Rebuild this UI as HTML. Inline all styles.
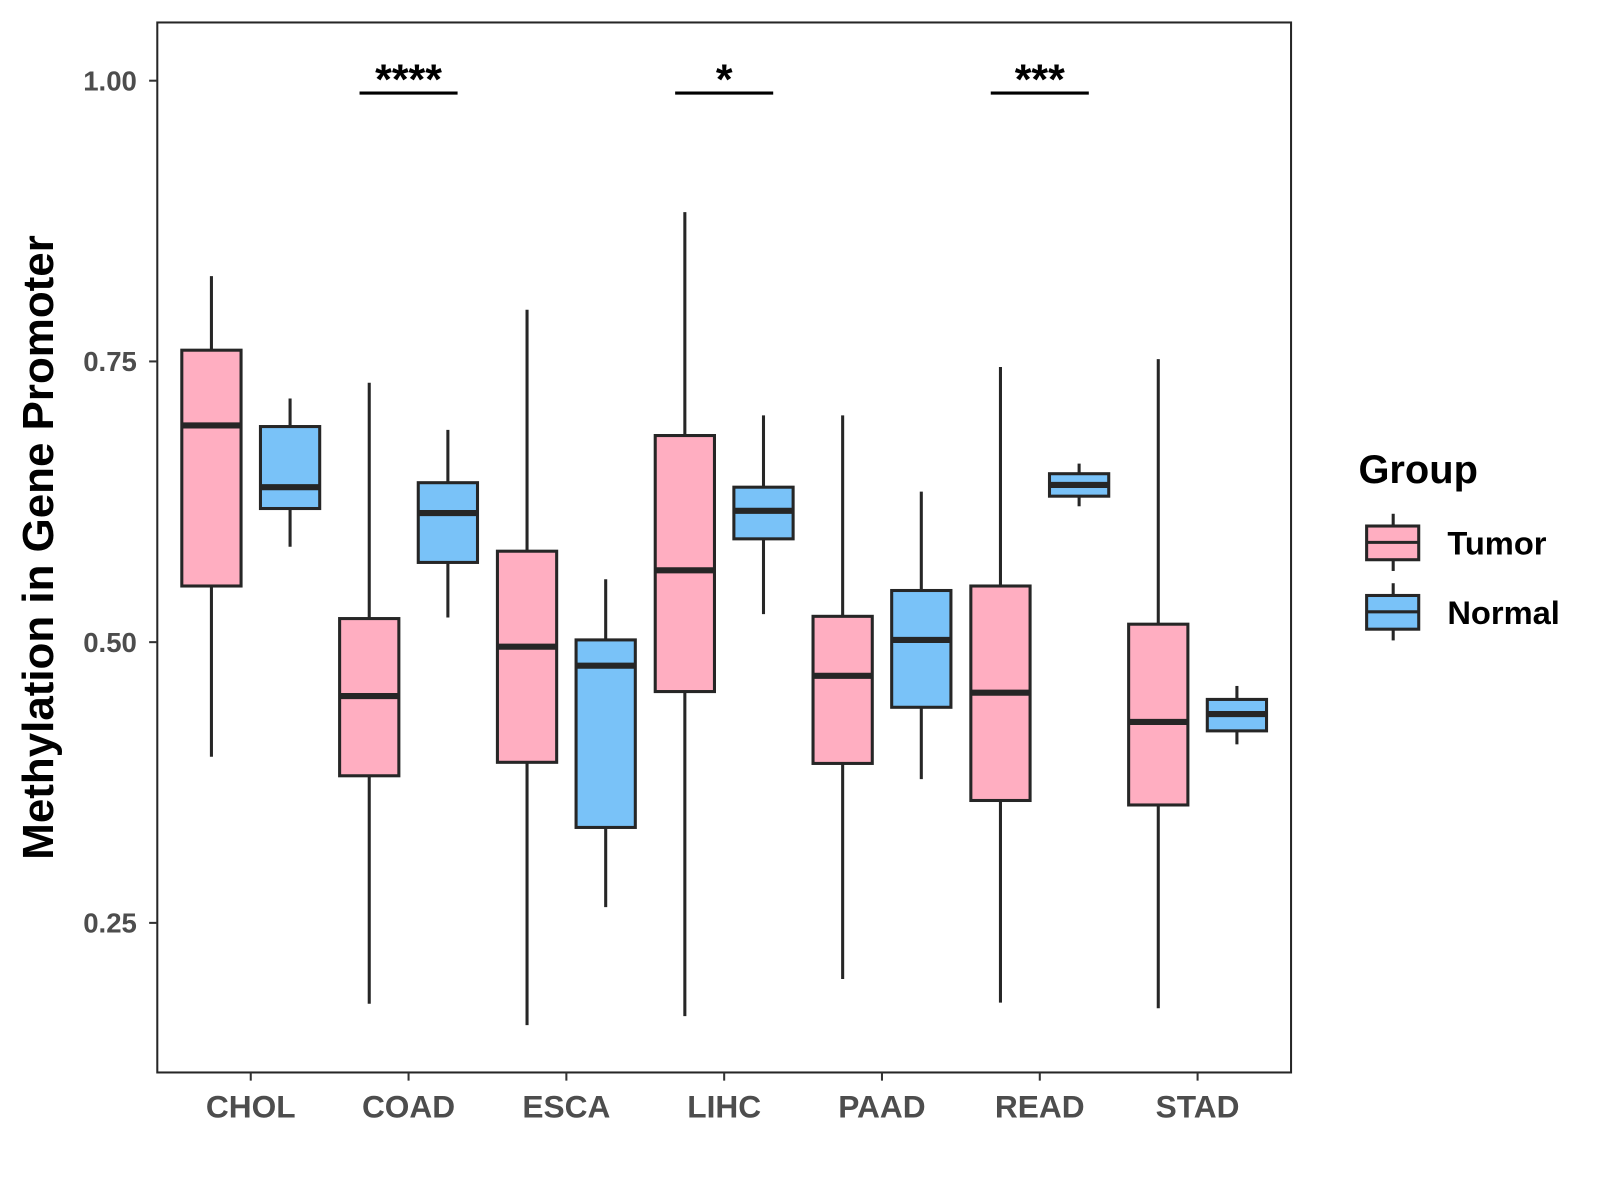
<!DOCTYPE html>
<html><head><meta charset="utf-8"><style>
html,body{margin:0;padding:0;background:#fff;}
svg{display:block;font-family:"Liberation Sans",Arial,sans-serif;}
</style></head><body>
<svg id="chart" width="1600" height="1200" viewBox="0 0 1600 1200">
<rect x="0" y="0" width="1600" height="1200" fill="#fff"/>
<g id="root" transform="scale(1.0214)">
<g id="marks"></g>
<rect x="154" y="22" width="1110" height="1028" fill="none" stroke="#262626" stroke-width="2"/>
<text transform="translate(52,536) rotate(-90)" text-anchor="middle" font-size="43" font-weight="bold" fill="#000">Methylation in Gene Promoter</text>
<g>
<text x="1330" y="473" font-size="39" font-weight="bold" fill="#000">Group</text>
<g>
<line x1="1364" y1="503" x2="1364" y2="559" stroke="#262626" stroke-width="3"/>
<rect x="1338" y="515" width="51" height="33" fill="#FFAEC1" stroke="#262626" stroke-width="3"/>
<line x1="1338" y1="531" x2="1389" y2="531" stroke="#262626" stroke-width="3"/>
<text x="1417" y="543" font-size="32" font-weight="bold" fill="#000">Tumor</text>
</g>
<g>
<line x1="1364" y1="571" x2="1364" y2="627" stroke="#262626" stroke-width="3"/>
<rect x="1338" y="583" width="51" height="33" fill="#79C2F8" stroke="#262626" stroke-width="3"/>
<line x1="1338" y1="599" x2="1389" y2="599" stroke="#262626" stroke-width="3"/>
<text x="1417" y="611" font-size="32" font-weight="bold" fill="#000">Normal</text>
</g>
</g>
</g>
</svg>
<script>
const categories = ["CHOL","COAD","ESCA","LIHC","PAAD","READ","STAD"];
// [lower whisker, q1, median, q3, upper whisker]
const tumorStats = [
 [0.398,0.550,0.693,0.760,0.826],
 [0.178,0.381,0.452,0.521,0.731],
 [0.159,0.393,0.496,0.581,0.796],
 [0.167,0.456,0.564,0.684,0.883],
 [0.200,0.392,0.470,0.523,0.702],
 [0.179,0.359,0.455,0.550,0.745],
 [0.174,0.355,0.429,0.516,0.752]
];
const normalStats = [
 [0.585,0.619,0.638,0.692,0.717],
 [0.522,0.571,0.615,0.642,0.689],
 [0.264,0.335,0.479,0.502,0.556],
 [0.525,0.592,0.617,0.638,0.702],
 [0.378,0.442,0.502,0.546,0.634],
 [0.621,0.630,0.640,0.650,0.659],
 [0.409,0.421,0.436,0.449,0.461]
];
const yTicks = [0.25,0.50,0.75,1.00];
const yTickLabels = ["0.25","0.50","0.75","1.00"];
const sigCategories = ["COAD","LIHC","READ"];
const sigLabels = ["****","*","***"];
const sigLevel = 0.989;

const NS="http://www.w3.org/2000/svg";
const g=document.getElementById('marks');
const root=document.getElementById('root');
function yScale(v){return 79+(1-v)*1099.4;}
function xScale(i){return 245.5+i*154.5;}
function mk(tag,attrs,parent){const e=document.createElementNS(NS,tag);for(const k in attrs)e.setAttribute(k,attrs[k]);(parent||g).appendChild(e);return e;}

yTicks.forEach((t,i)=>{
 const y=yScale(t);
 const l=mk('line',{x1:146,x2:154,y1:y,y2:y,stroke:'#333','stroke-width':2},root);
 
 
 const tx=mk('text',{x:134,y:y+9.5,'text-anchor':'end','font-size':27,'font-weight':'bold',fill:'#4d4d4d'},root);
 tx.textContent=yTickLabels[i];
 
 
});
categories.forEach((c,i)=>{
 const x=xScale(i);
 const l=mk('line',{x1:x,x2:x,y1:1050,y2:1058,stroke:'#333','stroke-width':2},root);
 
 
 const tx=mk('text',{x:x,y:1094,'text-anchor':'middle','font-size':31,'font-weight':'bold',fill:'#4d4d4d'},root);
 tx.textContent=c;
 
 
});
function drawBox(s,cx,fill,name){
 const grp=mk('g',{});
 
 
 const w=58;
 mk('line',{x1:cx,x2:cx,y1:yScale(s[4]),y2:yScale(s[0]),stroke:'#262626','stroke-width':3},grp);
 mk('rect',{x:cx-w/2,y:yScale(s[3]),width:w,height:yScale(s[1])-yScale(s[3]),fill:fill,stroke:'#262626','stroke-width':3},grp);
 mk('line',{x1:cx-w/2,x2:cx+w/2,y1:yScale(s[2]),y2:yScale(s[2]),stroke:'#262626','stroke-width':6},grp);
}
categories.forEach((c,i)=>{
 drawBox(tumorStats[i],xScale(i)-38.5,'#FFAEC1','box-tumor-'+c.toLowerCase());
 drawBox(normalStats[i],xScale(i)+38.5,'#79C2F8','box-normal-'+c.toLowerCase());
});
sigCategories.forEach((c,k)=>{
 const x=xScale(categories.indexOf(c));
 const y=yScale(sigLevel);
 const l=mk('line',{x1:x-48,x2:x+48,y1:y,y2:y,stroke:'#000','stroke-width':3});
 
 
 const t=mk('text',{x:x,y:y+1,'text-anchor':'middle','font-size':42,'font-weight':'bold',fill:'#000'});
 t.textContent=sigLabels[k];
 
 
});
</script>
</body></html>
